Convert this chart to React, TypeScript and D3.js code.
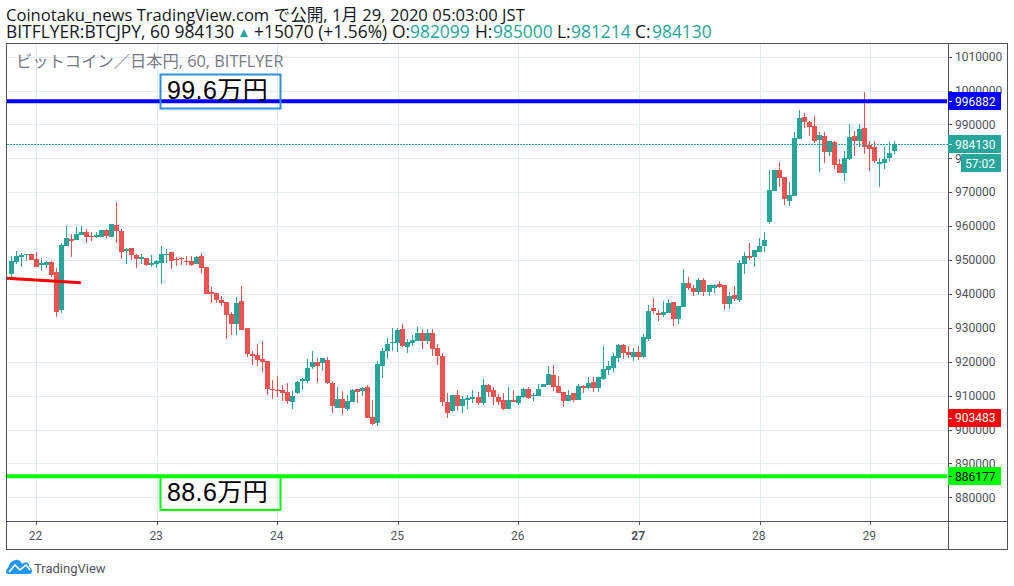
import React from "react";
import * as d3 from "d3";

// Prices are in thousands of yen (hourly bars).
const opens = [945.9,949.4,951.0,951.5,951.8,950.3,948.6,948.6,949.4,946.5,935.3,954.2,956.2,955.9,957.4,958.3,957.1,956.8,956.8,958.9,956.8,960.4,958.6,952.7,953.6,951.5,950.3,950.6,948.6,948.8,949.1,951.5,952.4,950.3,950.6,949.7,949.7,948.8,951.2,947.9,940.6,940.3,938.2,937.6,934.1,931.1,937.9,930.0,922.3,922.0,920.8,920.2,911.9,911.7,911.7,911.1,908.1,910.8,914.3,914.3,918.4,919.9,919.6,920.5,913.7,906.3,909.0,906.1,908.1,911.9,911.4,912.5,903.7,901.9,918.7,923.2,925.5,925.5,929.7,924.4,925.5,926.1,928.5,926.1,928.5,924.1,921.7,908.1,905.5,910.2,906.9,908.7,909.0,909.6,907.8,913.1,911.7,909.6,908.7,906.1,908.7,907.8,909.6,912.0,909.9,909.9,912.6,913.1,916.1,912.8,911.1,908.4,910.8,908.7,912.8,912.2,914.0,912.2,914.9,917.6,918.2,921.1,924.9,922.9,921.4,922.9,921.4,926.7,935.9,934.4,933.8,934.4,937.6,932.6,936.2,943.2,941.8,940.6,944.1,940.6,941.8,942.9,942.6,937.0,939.7,938.2,948.8,951.2,950.9,952.4,954.1,961.2,970.4,976.6,974.5,967.4,968.9,985.7,992.2,990.7,989.6,985.4,986.6,981.9,984.8,978.4,975.7,979.8,986.6,985.1,989.0,984.0,983.4,978.4,978.6,980.1,982.099];
const highs = [951.2,952.7,952.0,951.8,951.8,952.4,950.6,949.8,949.7,947.7,955.0,960.1,957.7,959.8,960.1,959.2,958.3,958.3,958.9,959.2,960.7,967.1,959.2,953.6,953.6,951.8,951.8,950.6,951.5,950.0,954.2,953.3,952.4,950.9,950.9,951.2,951.2,951.2,952.1,947.9,942.1,940.3,939.4,937.6,934.7,939.1,942.3,930.0,923.2,925.2,926.1,920.2,914.6,915.8,913.1,913.7,911.4,914.3,915.2,920.8,923.2,921.1,921.1,921.4,914.0,912.5,911.4,910.2,911.9,911.9,912.5,913.1,908.7,920.2,924.1,927.0,930.0,930.0,931.1,926.7,927.9,930.3,929.7,929.7,929.7,925.2,922.6,910.8,910.2,911.7,909.9,910.2,911.7,911.1,914.9,913.4,912.6,910.5,910.8,912.6,911.7,910.2,912.3,912.6,910.8,913.4,913.4,918.8,919.0,915.8,911.1,911.7,910.8,913.4,913.1,915.5,915.5,915.5,924.6,920.2,922.6,925.2,925.2,924.6,924.1,924.6,928.2,936.7,938.8,935.3,937.9,938.5,937.6,936.4,947.4,945.0,942.6,944.7,944.7,942.6,942.9,943.8,942.6,940.6,942.3,950.0,952.4,955.0,953.0,956.5,958.3,976.6,976.6,978.9,974.5,973.0,987.8,994.3,993.4,991.0,992.5,987.8,987.8,985.1,985.1,979.8,982.2,990.2,988.1,990.2,999.6,985.1,985.1,980.1,983.4,984.8,985.0];
const lows = [944.9,948.8,948.0,949.7,950.0,948.0,946.8,947.7,945.0,933.2,934.4,954.2,950.9,955.9,957.4,955.0,955.6,956.5,956.8,956.5,956.8,955.0,950.3,948.8,950.0,947.7,948.8,948.3,948.0,947.7,942.9,949.1,947.4,948.3,948.6,948.6,948.3,948.8,946.2,940.0,937.3,937.3,936.4,926.7,927.9,927.9,929.4,921.4,919.0,918.7,917.0,910.2,909.0,909.6,908.4,907.5,906.1,910.5,911.7,913.7,917.9,913.7,917.3,913.4,904.9,906.3,904.3,905.5,908.1,907.8,909.9,903.4,901.3,901.0,915.2,920.8,923.2,922.9,924.4,922.6,924.6,926.1,923.8,925.2,921.7,919.0,907.0,903.4,905.2,905.8,904.9,906.1,907.8,907.2,907.2,909.6,907.2,907.2,905.8,906.1,908.1,907.2,909.3,909.0,908.4,909.9,912.6,913.1,911.4,910.8,906.7,908.4,908.1,908.7,910.8,912.0,911.1,911.1,914.6,916.1,917.0,919.9,920.8,921.1,920.2,920.5,921.1,926.1,934.1,932.0,933.2,934.4,930.5,931.1,936.2,941.2,939.4,939.7,939.4,939.4,940.3,941.8,935.3,935.6,937.9,937.6,945.9,950.0,948.0,952.4,952.4,960.6,970.4,971.6,966.3,965.9,968.9,985.7,989.0,986.6,984.5,976.0,978.6,980.7,976.9,975.7,973.3,979.5,980.7,983.4,981.3,976.3,978.6,971.6,976.9,979.2,981.214];
const closes = [949.7,951.2,951.5,951.8,950.0,948.0,949.1,949.4,945.6,934.7,954.5,956.5,955.7,957.7,958.3,956.8,956.8,957.4,958.9,957.1,960.7,958.6,952.4,953.3,951.5,950.3,950.9,948.6,949.1,949.7,951.8,951.8,949.7,950.0,950.3,949.4,948.6,950.9,947.7,940.0,940.0,938.2,937.3,933.8,931.1,937.3,929.4,922.3,921.7,920.5,919.9,911.9,911.7,911.4,910.8,908.4,909.9,914.0,914.9,918.2,919.9,918.7,921.1,913.7,906.9,909.0,906.3,908.4,911.7,911.1,912.2,903.4,901.6,919.3,923.2,925.2,925.8,929.4,924.6,925.8,926.4,928.5,926.1,928.5,923.8,921.7,908.1,904.9,910.2,906.9,909.0,909.3,909.6,907.8,913.1,911.1,909.6,908.1,906.1,908.7,908.1,909.9,912.0,909.3,910.2,912.0,913.4,916.4,912.6,910.8,908.4,910.2,908.7,912.8,912.2,913.7,912.2,915.5,917.9,918.7,921.7,924.9,922.6,922.0,922.9,921.4,927.3,935.0,935.0,933.8,934.7,937.3,932.6,936.4,943.2,941.8,940.6,944.1,940.6,942.6,942.6,942.1,937.0,939.4,938.5,949.1,951.2,950.6,953.0,954.1,955.9,970.7,976.6,974.2,968.0,969.2,986.0,991.9,990.7,989.3,985.1,986.9,981.9,985.1,978.1,975.7,980.1,986.3,985.1,988.7,983.4,982.8,979.2,978.9,979.8,981.6,984.13];

const priceTicks = [880000,890000,900000,910000,920000,930000,940000,950000,960000,970000,980000,990000,1000000,1010000];
const dayTickBars = [5,29,53,77,101,125,149,171];
const dayLabels = ["22","23","24","25","26","27","28","29"];
const boldDay = "27";

const levelHigh = 996882;
const levelLow = 886177;
const levelRed = 903483;
const lastClose = 984130;
const trendPrices = [944600, 943300];
const trendBars = [-0.7, 14];

const titleLine = "Coinotaku_news TradingView.com で公開, 1月 29, 2020 05:03:00 JST";
const watermark = "ビットコイン／日本円, 60, BITFLYER";
const noteHigh = "99.6万円";
const noteLow = "88.6万円";
const countdown = "57:02";

const TEAL = "#26a69a";
const RED = "#ef5350";
const GRID = "#e1ecf2";
const FRAME = "#50535e";
const AXIS_TEXT = "#50535e";
const FONT = "'Open Sans', 'Noto Sans CJK JP', sans-serif";
const AXIS_FONT = "Roboto, sans-serif";

const PLOT = { left: 7, right: 948, top: 43, bottom: 521, outerRight: 1007, outerBottom: 549 };

export default function App() {
  const x = d3.scaleLinear().domain([0, 176]).range([10.5, 894.3]);
  const y = d3.scaleLinear().domain([880000, 1010000]).range([497.3, 56.7]);
  const yK = (k: number) => y(k * 1000);
  const px = (v: number) => Math.round(y(v));
  const trendLine = d3.line<number>()
    .x((b) => x(b))
    .y((_, i) => y(trendPrices[i]))(trendBars) as string;

  const priceTag = (value: number, bg: string, fg: string) => {
    const cy = y(value);
    return (
      <g key={value}>
        <rect x={948} y={Math.round(cy) - 9} width={53} height={18} fill={bg} />
        <line x1={949} x2={952} y1={Math.round(cy) + 0.5} y2={Math.round(cy) + 0.5} stroke={fg} shapeRendering="crispEdges" />
        <text x={955} y={cy + 4.4} fontSize={12} fontFamily={AXIS_FONT} fill={fg}>{value}</text>
      </g>
    );
  };

  return (
    <svg width={1014} height={586} style={{ position: "absolute", left: 0, top: 0, display: "block", background: "#fff" }} fontFamily={FONT}>
      <text x={6} y={20.5} fontSize={16.6} fill="#131722">{titleLine}</text>
      <text x={6} y={38} fontSize={17.4} fill="#131722">BITFLYER:BTCJPY, 60 984130</text>
      <path d="M240 37 L244 29 L248 37 Z" fill={TEAL} />
      <text y={38} fontSize={17.4} fill="#131722">
        <tspan x={254}>+15070 (+1.56%)</tspan>
        <tspan x={392}>O:</tspan>
        <tspan x={410} fill={TEAL}>982099</tspan>
        <tspan x={475}>H:</tspan>
        <tspan x={493} fill={TEAL}>985000</tspan>
        <tspan x={557}>L:</tspan>
        <tspan x={571} fill={TEAL}>981214</tspan>
        <tspan x={635}>C:</tspan>
        <tspan x={652} fill={TEAL}>984130</tspan>
      </text>

      {/* grid */}
      <g shapeRendering="crispEdges" stroke={GRID}>
        {priceTicks.map((t) => (
          <line key={t} x1={PLOT.left} x2={PLOT.right} y1={px(t) + 0.5} y2={px(t) + 0.5} />
        ))}
        {dayTickBars.map((b) => (
          <line key={b} x1={Math.round(x(b) + 0.8) + 0.5} x2={Math.round(x(b) + 0.8) + 0.5} y1={PLOT.top} y2={PLOT.bottom} />
        ))}
      </g>

      <text x={16} y={67} fontSize={16.3} fill="#787b86">{watermark}</text>

      {/* candles */}
      <g shapeRendering="crispEdges">
        {closes.map((c, i) => {
          const color = c >= opens[i] ? TEAL : RED;
          const cx = Math.round(x(i));
          const top = yK(Math.max(opens[i], c));
          const bottom = yK(Math.min(opens[i], c));
          return (
            <g key={i}>
              <rect x={cx} y={yK(highs[i])} width={1} height={yK(lows[i]) - yK(highs[i])} fill={color} />
              <rect x={cx - 2} y={top} width={5} height={Math.max(1, bottom - top)} fill={color} />
            </g>
          );
        })}
      </g>

      {/* last-price line */}
      <line x1={PLOT.left} x2={PLOT.right} y1={Math.round(y(lastClose)) + 0.5} y2={Math.round(y(lastClose)) + 0.5} stroke={TEAL} strokeDasharray="2 1" shapeRendering="crispEdges" />

      {/* drawings */}
      <path d={trendLine} stroke="#ff0000" strokeWidth={3} fill="none" />
      <line x1={PLOT.left} x2={PLOT.right - 1} y1={y(levelHigh)} y2={y(levelHigh)} stroke="#0000ff" strokeWidth={4} />
      <line x1={PLOT.left} x2={PLOT.right - 1} y1={y(levelLow)} y2={y(levelLow)} stroke="#00ff00" strokeWidth={4} />

      <rect x={160.5} y={74.5} width={120} height={34} fill="none" stroke="#2e8fe0" strokeWidth={2} />
      <text x={167} y={99} fontSize={25} fontFamily="'Liberation Sans', 'Noto Sans CJK JP', sans-serif" letterSpacing={0.4} fill="#000">{noteHigh}</text>
      <rect x={160.5} y={477} width={120} height={33} fill="none" stroke="#00ff00" strokeWidth={2} />
      <text x={167} y={500.5} fontSize={25} fontFamily="'Liberation Sans', 'Noto Sans CJK JP', sans-serif" letterSpacing={0.4} fill="#000">{noteLow}</text>

      {/* frame */}
      <g fill="none" stroke={FRAME} shapeRendering="crispEdges">
        <rect x={6.5} y={43.5} width={1000.5} height={505.5} />
        <line x1={948.5} x2={948.5} y1={43.5} y2={549} />
        <line x1={6.5} x2={1007} y1={521.5} y2={521.5} />
      </g>

      {/* price axis */}
      <g fontSize={12} fontFamily={AXIS_FONT} fill={AXIS_TEXT}>
        {priceTicks.map((t) => (
          <g key={t}>
            <line x1={948} x2={952} y1={px(t) + 0.5} y2={px(t) + 0.5} stroke={FRAME} shapeRendering="crispEdges" />
            <text x={955} y={y(t) + 4.2}>{t}</text>
          </g>
        ))}
      </g>

      {/* time axis */}
      <g fontSize={12} fontFamily={AXIS_FONT} fill={AXIS_TEXT} textAnchor="middle">
        {dayTickBars.map((b, i) => (
          <g key={b}>
            <line x1={Math.round(x(b) + 0.8) + 0.5} x2={Math.round(x(b) + 0.8) + 0.5} y1={521} y2={525} stroke={FRAME} shapeRendering="crispEdges" />
            <text x={x(b)} y={540} fontWeight={dayLabels[i] === boldDay ? 700 : 400}>{dayLabels[i]}</text>
          </g>
        ))}
      </g>

      {priceTag(levelHigh, "#0000ff", "#ffffff")}
      {priceTag(levelRed, "#ff0000", "#ffffff")}
      {priceTag(levelLow, "#00ff00", "#000000")}
      {priceTag(lastClose, TEAL, "#ffffff")}
      <rect x={961} y={154} width={40} height={18} fill={TEAL} />
      <text x={965} y={167.5} fontSize={12} fontFamily={AXIS_FONT} fill="#fff">{countdown}</text>

      {/* footer logo */}
      <path d="M6 572 Q6 569 8 568 Q10 561 15 560 Q20 559 22 564 Q25 561 28 563 Q30 565 29 567 Q32 568 32 571 Q32 574 29 574 L8 574 Q6 574 6 572 Z" fill="#2196f3" />
      <path d="M9 572 L15 565 L20 570 L26 565 L30 570" fill="none" stroke="#fff" strokeWidth={1.6} />
      <text x={34} y={572.5} fontSize={13} fontFamily="Roboto, sans-serif" fill="#50535e">TradingView</text>
    </svg>
  );
}
